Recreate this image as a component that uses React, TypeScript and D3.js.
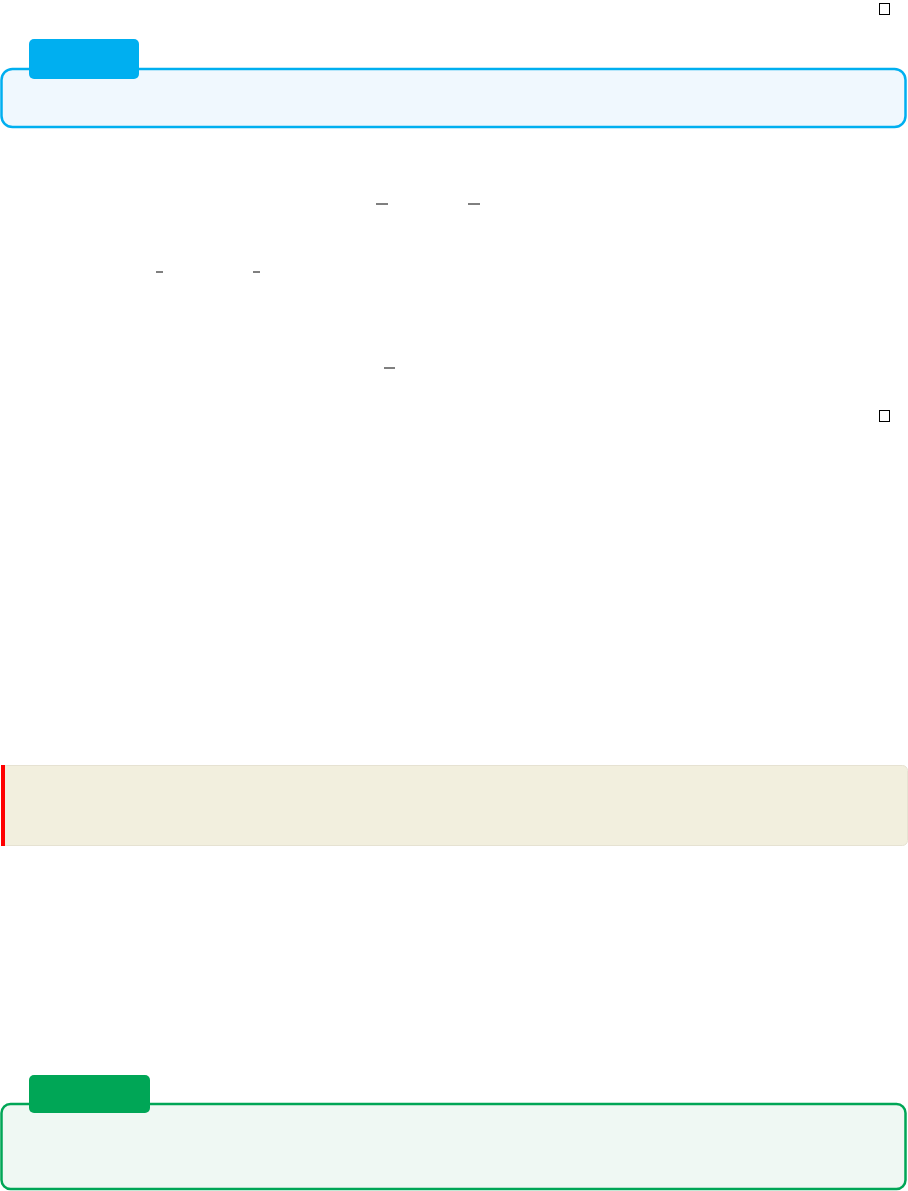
import React, { useEffect, useRef } from 'react';
import * as d3 from 'd3';

// layout of the (text-less) page: panels, tabs, overline marks, end-of-proof squares
const panels = [
  { x: 1.5, y: 69, w: 904, h: 58, r: 11, fill: '#f0f8fe', stroke: '#00aff0', sw: 2.5 },
  { x: 1.5, y: 1104, w: 904, h: 85, r: 9, fill: '#eff8f3', stroke: '#00a656', sw: 2.5 },
];
const tabs = [
  { x: 29, y: 39, w: 110, h: 40, fill: '#00aff0' },
  { x: 29, y: 1075, w: 121, h: 38, fill: '#00a656' },
];
const overlines = [
  { x1: 376, x2: 388, y: 204 },
  { x1: 468, x2: 480, y: 204 },
  { x1: 156, x2: 163, y: 272 },
  { x1: 253, x2: 260, y: 272 },
  { x1: 384, x2: 395, y: 368 },
];
const squares = [
  { x: 879.5, y: 3.5 },
  { x: 879.5, y: 410.5 },
];

export default function App() {
  const svgRef = useRef<SVGSVGElement | null>(null);

  useEffect(() => {
    if (!svgRef.current) return;
    const svg = d3.select(svgRef.current);
    svg.selectAll('*').remove();

    // note box (beige with red rule)
    svg.append('rect')
      .attr('x', 1.5).attr('y', 765.5).attr('width', 906).attr('height', 80).attr('rx', 5)
      .attr('fill', '#f2efde').attr('stroke', '#e6e2d2').attr('stroke-width', 1);
    svg.append('rect')
      .attr('x', 1).attr('y', 765).attr('width', 4).attr('height', 81).attr('fill', '#ff0000');

    svg.selectAll('rect.panel').data(panels).join('rect')
      .attr('class', 'panel')
      .attr('x', d => d.x).attr('y', d => d.y).attr('width', d => d.w).attr('height', d => d.h)
      .attr('rx', d => d.r)
      .attr('fill', d => d.fill).attr('stroke', d => d.stroke).attr('stroke-width', d => d.sw);

    svg.selectAll('rect.tab').data(tabs).join('rect')
      .attr('class', 'tab')
      .attr('x', d => d.x).attr('y', d => d.y).attr('width', d => d.w).attr('height', d => d.h)
      .attr('rx', 5).attr('fill', d => d.fill);

    svg.selectAll('line.ol').data(overlines).join('line')
      .attr('class', 'ol')
      .attr('x1', d => d.x1).attr('x2', d => d.x2).attr('y1', d => d.y).attr('y2', d => d.y)
      .attr('stroke', '#000').attr('stroke-width', 1);

    svg.selectAll('rect.qed').data(squares).join('rect')
      .attr('class', 'qed')
      .attr('x', d => d.x).attr('y', d => d.y).attr('width', 10).attr('height', 11)
      .attr('fill', 'none').attr('stroke', '#000').attr('stroke-width', 1);
  }, []);

  return (
    <svg ref={svgRef} width={908} height={1191}
      style={{ position: 'absolute', left: 0, top: 0, background: '#fff' }} />
  );
}
